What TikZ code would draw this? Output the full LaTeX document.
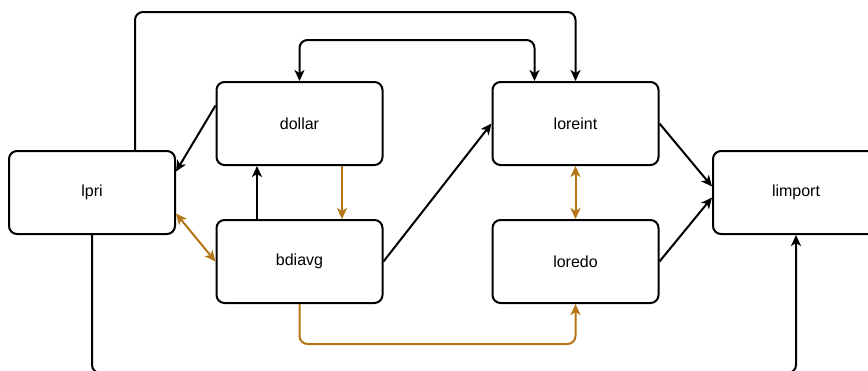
\documentclass[tikz,border=0pt]{standalone}
\usepackage{fontspec}
\setmainfont{Liberation Sans}
\usetikzlibrary{arrows.meta,positioning}
\definecolor{ochre}{RGB}{180,117,20}

\begin{document}
\begin{tikzpicture}[x=1pt, y=-1pt, line width=2pt, every node/.style={font=\fontsize{16}{19}\selectfont}, box/.style={draw, rounded corners=8pt, align=center, minimum width=166pt, minimum height=83pt}, link/.style={-{Stealth[length=11pt,width=10pt,inset=3pt]}, rounded corners=8pt}, both/.style={{Stealth[length=11pt,width=10pt,inset=3pt]}-{Stealth[length=11pt,width=10pt,inset=3pt]}, rounded corners=8pt}, gold/.style={draw=ochre}]
\clip (0,0) rectangle (868,370);
\node[box] (lpri) at (92,192.5) {lpri};
\node[box] (dollar) at (299.5,123.5) {dollar};
\node[box, below=53pt of dollar] (bdiavg) {bdiavg};
\node[box, right=108pt of dollar] (loreint) {loreint};
\node[box, below=53pt of loreint] (loredo) {loredo};
\node[box] (limport) at (796,192.5) {limport};
% loops over the top
\draw[link] ([xshift=43pt]lpri.north) |- ([yshift=69pt]loreint.north) -- (loreint.north);
\draw[both] ([xshift=-41pt]loreint.north) |- ([yshift=41pt]dollar.north) -- (dollar.north);
% middle links
\draw[link] ([yshift=18pt]dollar.west) -- ([yshift=21pt]lpri.east);
\draw[link] ([xshift=-42.5pt]bdiavg.north) -- ([xshift=-42.5pt]dollar.south);
\draw[link, gold] ([xshift=42.5pt]dollar.south) -- ([xshift=42.5pt]bdiavg.north);
\draw[both, gold] ([yshift=-21pt]lpri.east) -- (bdiavg.west);
\draw[link] (bdiavg.east) -- (loreint.west);
\draw[both, gold] (loreint.south) -- (loredo.north);
\draw[link] (loreint.east) -- ([yshift=6pt]limport.west);
\draw[link] (loredo.east) -- ([yshift=-5pt]limport.west);
% loops underneath
\draw[link, gold] (bdiavg.south) |- ([yshift=-40pt]loredo.south) -- (loredo.south);
\draw[link] (lpri.south) |- ([yshift=-138pt]limport.south) -- (limport.south);
\end{tikzpicture}
\end{document}
